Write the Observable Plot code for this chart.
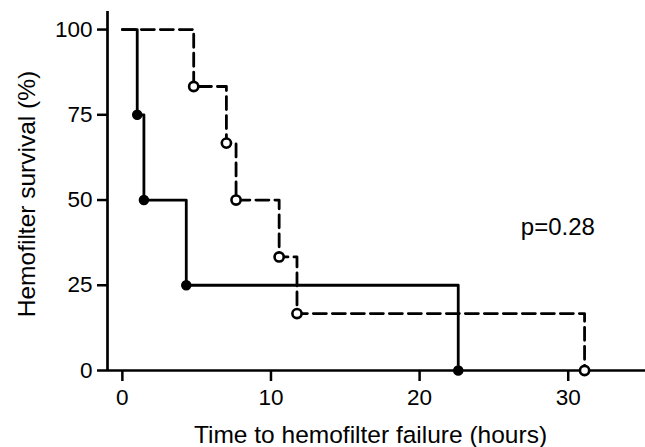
<!DOCTYPE html>
<html>
<head>
<meta charset="utf-8">
<script src="https://cdn.jsdelivr.net/npm/d3@7"></script>
<script src="https://cdn.jsdelivr.net/npm/@observablehq/plot@0.6"></script>
<style>
  html, body { margin: 0; padding: 0; background: white; }
</style>
</head>
<body>
<div id="chart"></div>
<script>
// Group A (solid, filled markers)
const timesA = [0, 1.0, 1.45, 4.3, 22.6];
const survA = [100, 75, 50, 25, 0];
// Group B (dashed, open markers)
const timesB = [0, 4.8, 7.0, 7.65, 10.55, 11.75, 31.1];
const survB = [100, 83.3, 66.7, 50, 33.3, 16.7, 0];
// Axes
const xTicks = [0, 10, 20, 30];
const yTicks = [0, 25, 50, 75, 100];
const xTitle = "Time to hemofilter failure (hours)";
const yTitle = "Hemofilter survival (%)";
const pLabel = "p=0.28";
const pPos = {x: 29.3, y: 42};

const xMin = -1, xMax = 35.2, yMax = 105.3;

const A = timesA.map((t, i) => ({t, s: survA[i]}));
const B = timesB.map((t, i) => ({t, s: survB[i]}));

const font = "'Liberation Sans', Arial, Helvetica, sans-serif";

const chart = Plot.plot({
  width: 645,
  height: 447,
  marginLeft: 107,
  marginRight: 0,
  marginTop: 11,
  marginBottom: 77,
  x: {domain: [xMin, xMax]},
  y: {domain: [0, yMax]},
  style: {fontFamily: font, fontSize: "22px", color: "black", background: "white"},
  marks: [
    Plot.axisX({ticks: xTicks, tickSize: 11, tickPadding: 8, label: null, strokeWidth: 2.5, fontSize: 22.5}),
    Plot.axisY({ticks: yTicks, tickSize: 10, tickPadding: 5, label: null, strokeWidth: 2.5, fontSize: 22.5}),
    Plot.ruleX([xMin], {y1: 0, y2: yMax, strokeWidth: 2.7, stroke: "black"}),
    Plot.ruleY([0], {x1: xMin, x2: xMax, strokeWidth: 2.7, stroke: "black"}),
    Plot.line(B, {x: "t", y: "s", curve: "step-after", stroke: "black", strokeWidth: 2.8, strokeDasharray: "13,6"}),
    Plot.line(A, {x: "t", y: "s", curve: "step-after", stroke: "black", strokeWidth: 2.8}),
    Plot.dot(A.slice(1), {x: "t", y: "s", r: 4.5, fill: "black", stroke: "black"}),
    Plot.dot(B.slice(1), {x: "t", y: "s", r: 4.6, fill: "white", stroke: "black", strokeWidth: 2.6}),
    Plot.text([pLabel], {x: pPos.x, y: pPos.y, text: d => d, fontSize: 24, textAnchor: "middle", fill: "black"}),
    Plot.text([xTitle], {frameAnchor: "bottom", text: d => d, dx: -6, dy: 64.5, fontSize: 24.5, textAnchor: "middle", lineAnchor: "middle", fill: "black"}),
    Plot.text([yTitle], {frameAnchor: "left", text: d => d, dx: -80, dy: 3, rotate: -90, fontSize: 24.5, textAnchor: "middle", lineAnchor: "middle", fill: "black"})
  ]
});

document.getElementById("chart").appendChild(chart);
</script>
</body>
</html>
